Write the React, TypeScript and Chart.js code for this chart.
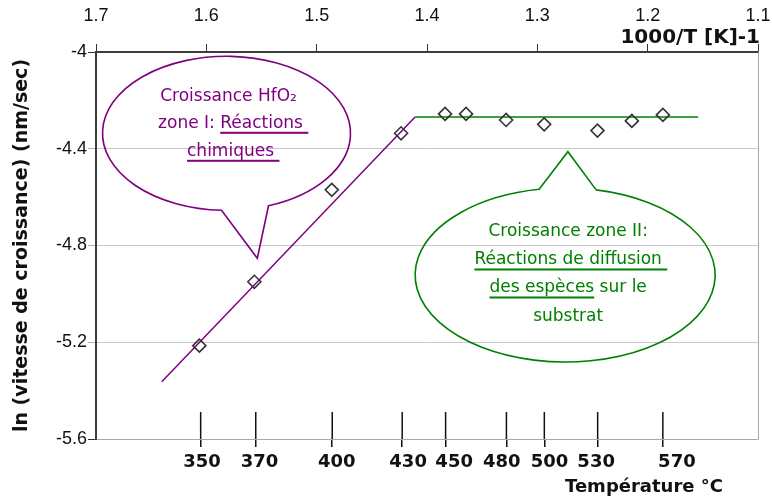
import React, { useEffect, useRef } from "react";
import { Chart, registerables } from "chart.js";

Chart.register(...registerables);

// ---- data ----
const invT = [1.6063, 1.5565, 1.4863, 1.4235, 1.3836, 1.3646, 1.3283, 1.2938, 1.2455, 1.2143, 1.1862];
const lnRate = [-5.214, -4.95, -4.57, -4.336, -4.256, -4.256, -4.281, -4.299, -4.325, -4.285, -4.26];
const zone1FitX = [1.6404, 1.4108];
const zone1FitY = [-5.363, -4.269];
const zone2FitX = [1.4108, 1.1542];
const zone2FitY = [-4.269, -4.269];
// temperature ticks (°C) and where their labels sit on the 1000/T axis
const tempTicks = [350, 370, 400, 430, 450, 480, 500, 530, 570];
const tempLabelAtInvT = [1.6039, 1.5518, 1.4818, 1.4171, 1.3754, 1.3322, 1.2889, 1.2467, 1.1735];
const invTTickLabels = ["1.7", "1.6", "1.5", "1.4", "1.3", "1.2", "1.1"];
const yTickLabels = ["-5.6", "-5.2", "-4.8", "-4.4", "-4"];

const bubble1Lines = ["Croissance HfO₂", "zone I: Réactions ", "chimiques "];
const bubble2Lines = ["Croissance zone II:", "Réactions de diffusion ", "des espèces sur le", "substrat"];

const PURPLE = "#800080";
const GREEN = "#008000";
const TXT = '"Comic Sans MS", "DejaVu Sans", sans-serif';
const TICKF = '"Liberation Sans", Arial, sans-serif';

const near = (a: number, b: number) => Math.abs(a - b) < 1e-6;

function drawBubble(
  ctx: CanvasRenderingContext2D,
  cx: number, cy: number, rx: number, ry: number,
  dxLeft: number, dxRight: number, side: number,
  tipX: number, tipY: number, color: string
) {
  const ang = (dx: number) => {
    const c = dx / rx;
    return Math.atan2(side * Math.sqrt(1 - c * c), c);
  };
  const tL = ang(dxLeft);
  const tR = ang(dxRight);
  ctx.beginPath();
  if (side > 0) {
    ctx.ellipse(cx, cy, rx, ry, 0, tL, tR + Math.PI * 2, false);
  } else {
    ctx.ellipse(cx, cy, rx, ry, 0, tR, tL + Math.PI * 2, false);
  }
  ctx.lineTo(tipX, tipY);
  ctx.closePath();
  ctx.strokeStyle = color;
  ctx.lineWidth = 1.6;
  ctx.stroke();
}

// draw a line of text centred at x; underline a part [u0,u1) of it
function textLine(
  ctx: CanvasRenderingContext2D, s: string, x: number, y: number,
  color: string, u0 = -1, u1 = -1
) {
  const visible = s.replace(/\s+$/, "");
  const w = ctx.measureText(visible).width;
  const left = x - w / 2;
  ctx.fillStyle = color;
  ctx.textAlign = "left";
  ctx.textBaseline = "middle";
  ctx.fillText(visible, left, y);
  if (u0 >= 0) {
    const a = left + ctx.measureText(s.slice(0, u0)).width;
    const b = left + ctx.measureText(s.slice(0, u1)).width;
    ctx.fillRect(a, y + 8.5, b - a, 2);
  }
}

const overlay = {
  id: "overlay",
  afterDraw(chart: any) {
    const { ctx, chartArea: ca, scales } = chart;
    const xs = scales.x;
    const ys = scales.y;
    const xb = scales.xb;
    ctx.save();
    // right frame line
    ctx.strokeStyle = "#a8a8a8";
    ctx.lineWidth = 1;
    ctx.beginPath();
    ctx.moveTo(Math.round(ca.right) + 0.5, ca.top);
    ctx.lineTo(Math.round(ca.right) + 0.5, ca.bottom);
    ctx.stroke();

    // inner part of temperature ticks
    ctx.strokeStyle = "#111";
    ctx.lineWidth = 1.5;
    xb.ticks.forEach((t: any) => {
      const px = xb.getPixelForValue(t.value);
      ctx.beginPath();
      ctx.moveTo(px, ca.bottom - 27);
      ctx.lineTo(px, ca.bottom);
      ctx.stroke();
    });

    // bubble zone I
    const b1x = xs.getPixelForValue(1.5817);
    const b1y = ys.getPixelForValue(-4.3361);
    drawBubble(ctx, b1x, b1y, 124, 77, -5, 42, 1,
      xs.getPixelForValue(1.5538), ys.getPixelForValue(-4.8528), PURPLE);
    ctx.font = `17px ${TXT}`;
    textLine(ctx, bubble1Lines[0], b1x + 2, b1y - 37, PURPLE);
    textLine(ctx, bubble1Lines[1], b1x + 4, b1y - 10, PURPLE, 8, 18);
    textLine(ctx, bubble1Lines[2], b1x + 4, b1y + 18, PURPLE, 0, 10);

    // bubble zone II
    const b2x = xs.getPixelForValue(1.2748);
    const b2y = ys.getPixelForValue(-4.9219);
    drawBubble(ctx, b2x, b2y, 150, 87, -26, 31, -1,
      xs.getPixelForValue(1.2723), ys.getPixelForValue(-4.412), GREEN);
    ctx.font = `17px ${TXT}`;
    textLine(ctx, bubble2Lines[0], b2x + 3, b2y - 43, GREEN);
    textLine(ctx, bubble2Lines[1], b2x + 3, b2y - 15, GREEN, 0, 23);
    textLine(ctx, bubble2Lines[2], b2x + 3, b2y + 13, GREEN, 0, 11);
    textLine(ctx, bubble2Lines[3], b2x + 3, b2y + 42, GREEN);

    // axis titles
    ctx.fillStyle = "#111";
    ctx.textBaseline = "middle";
    ctx.font = `bold 20px ${TXT}`;
    ctx.textAlign = "right";
    ctx.fillText("1000/T [K]-1", 760, 37.5);
    ctx.font = `bold 18px ${TXT}`;
    ctx.textAlign = "center";
    ctx.fillText("Température °C", 644, 487);
    ctx.restore();
  },
};

export default function App() {
  const ref = useRef<HTMLCanvasElement>(null);
  useEffect(() => {
    const points = invT.map((x, i) => ({ x, y: lnRate[i] }));
    const fit1 = zone1FitX.map((x, i) => ({ x, y: zone1FitY[i] }));
    const fit2 = zone2FitX.map((x, i) => ({ x, y: zone2FitY[i] }));
    const chart = new Chart(ref.current as HTMLCanvasElement, {
      type: "scatter",
      data: {
        datasets: [
          {
            label: "mesures",
            data: points,
            pointStyle: "rectRot",
            pointRadius: 6.5,
            pointBorderWidth: 1.6,
            borderColor: "#333",
            backgroundColor: "rgba(0,0,0,0)",
            showLine: false,
            xAxisID: "x",
            yAxisID: "y",
          } as any,
          {
            label: "zone I",
            data: fit1,
            showLine: true,
            borderColor: PURPLE,
            borderWidth: 1.5,
            pointRadius: 0,
            xAxisID: "x",
            yAxisID: "y",
          } as any,
          {
            label: "zone II",
            data: fit2,
            showLine: true,
            borderColor: GREEN,
            borderWidth: 1.5,
            pointRadius: 0,
            xAxisID: "x",
            yAxisID: "y",
          } as any,
        ],
      },
      options: {
        responsive: false,
        animation: false,
        layout: { padding: { left: 0, right: 14, top: 0, bottom: 0 } },
        plugins: { legend: { display: false }, tooltip: { enabled: false } },
        scales: {
          x: {
            type: "linear",
            position: "top",
            min: 1.1,
            max: 1.7,
            reverse: true,
            afterBuildTicks: (s: any) => {
              s.ticks = invTTickLabels.map((l) => ({ value: parseFloat(l) }));
            },
            ticks: {
              autoSkip: false,
              maxRotation: 0,
              padding: 17,
              color: "#111",
              font: { family: TICKF, size: 18 },
              callback: (_v: any, i: number) => invTTickLabels[i],
            },
            grid: { drawOnChartArea: false, drawTicks: true, tickLength: 8, color: "#333", lineWidth: 1 },
            border: { color: "#3c3c3c", width: 2 },
            afterFit: (s: any) => { s.height = 52; s.paddingLeft = 0; s.paddingRight = 0; },
          },
          // temperature tick marks (at 1000/(T+273))
          xb: {
            type: "linear",
            position: "bottom",
            min: 1.1,
            max: 1.7,
            reverse: true,
            afterBuildTicks: (s: any) => {
              s.ticks = tempTicks.map((t) => ({ value: 1000 / (t + 273) }));
            },
            ticks: { display: false, autoSkip: false, maxRotation: 0 },
            grid: { drawOnChartArea: false, drawTicks: true, tickLength: 8, color: "#111", lineWidth: 1.5 },
            border: { color: "#a8a8a8", width: 1 },
            afterFit: (s: any) => { s.height = 0; s.paddingLeft = 0; s.paddingRight = 0; },
          },
          // temperature labels
          xl: {
            type: "linear",
            position: "bottom",
            min: 1.1,
            max: 1.7,
            reverse: true,
            afterBuildTicks: (s: any) => {
              s.ticks = tempLabelAtInvT.map((v) => ({ value: v }));
            },
            ticks: {
              autoSkip: false,
              maxRotation: 0,
              padding: 12.5,
              color: "#111",
              font: { family: TXT, size: 18, weight: "bold" },
              callback: (_v: any, i: number) => String(tempTicks[i]),
            },
            grid: { display: false, drawTicks: false, drawOnChartArea: false },
            border: { display: false },
            afterFit: (s: any) => { s.height = 64; s.paddingLeft = 0; s.paddingRight = 0; },
          },
          y: {
            type: "linear",
            position: "left",
            min: -5.6,
            max: -4,
            afterBuildTicks: (s: any) => {
              s.ticks = yTickLabels.map((l) => ({ value: parseFloat(l) }));
            },
            ticks: {
              padding: 1,
              color: "#111",
              font: { family: TICKF, size: 18 },
              callback: (_v: any, i: number) => yTickLabels[i],
            },
            grid: {
              drawTicks: true,
              tickLength: 8,
              lineWidth: 1,
              color: (c: any) =>
                c.tick && (near(c.tick.value, -4) || near(c.tick.value, -5.6)) ? "rgba(0,0,0,0)" : "#c8c8c8",
              tickColor: (c: any) =>
                c.tick && (near(c.tick.value, -4) || near(c.tick.value, -5.6)) ? "#333" : "#b0b0b0",
            },
            border: { color: "#3c3c3c", width: 2 },
            title: {
              display: true,
              text: "ln (vitesse de croissance) (nm/sec)",
              color: "#111",
              font: { family: TXT, size: 19, weight: "bold" },
              padding: { top: 11, bottom: 0 },
            },
            afterFit: (s: any) => { s.width = 96; s.paddingTop = 0; s.paddingBottom = 0; },
          },
        },
      } as any,
      plugins: [overlay],
    });
    return () => chart.destroy();
  }, []);
  return (
    <div style={{ position: "fixed", left: 0, top: 0, width: 772, height: 503, background: "#fff" }}>
      <canvas ref={ref} width={772} height={503} style={{ display: "block" }} />
    </div>
  );
}
